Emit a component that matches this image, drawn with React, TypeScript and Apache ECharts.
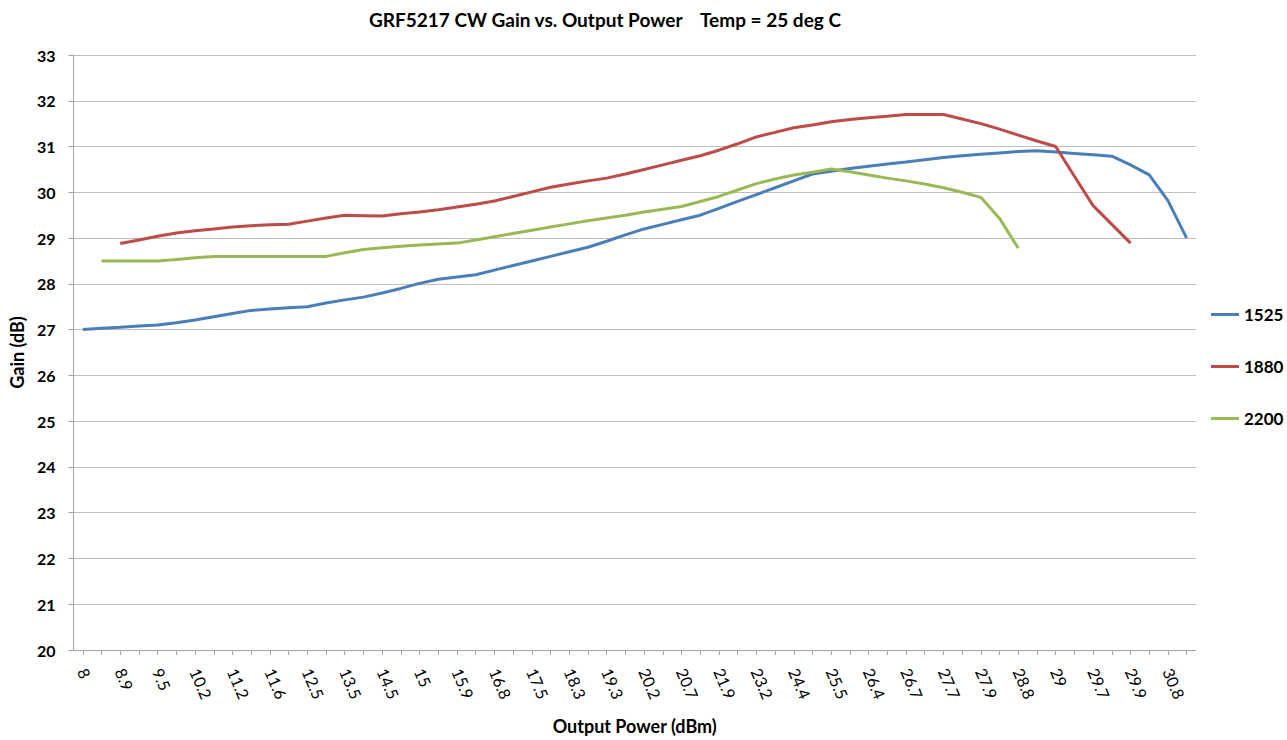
import React, { useEffect, useRef } from "react";
import * as echarts from "echarts";

const categories = [
  "8", "8.4", "8.9", "9.2", "9.5", "9.9", "10.2", "10.7", "11.2", "11.4",
  "11.6", "12.1", "12.5", "13", "13.5", "14", "14.5", "14.8", "15", "15.5",
  "15.9", "16.3", "16.8", "17.1", "17.5", "17.9", "18.3", "18.8", "19.3", "19.8",
  "20.2", "20.5", "20.7", "21.3", "21.9", "22.6", "23.2", "23.8", "24.4", "25",
  "25.5", "26", "26.4", "26.5", "26.7", "27.2", "27.7", "27.8", "27.9", "28.3",
  "28.8", "28.9", "29", "29.4", "29.7", "29.8", "29.9", "30.3", "30.8", "31.2",
];

const gain1525 = [
  27.0, 27.03, 27.05, 27.08, 27.1, 27.15, 27.21, 27.28, 27.35, 27.42,
  27.45, 27.48, 27.5, 27.58, 27.65, 27.71, 27.8, 27.9, 28.01, 28.1,
  28.15, 28.2, 28.3, 28.4, 28.5, 28.6, 28.7, 28.8, 28.93, 29.07,
  29.2, 29.3, 29.4, 29.5, 29.65, 29.8, 29.95, 30.1, 30.25, 30.4,
  30.46, 30.52, 30.57, 30.62, 30.66, 30.71, 30.76, 30.8, 30.83, 30.86,
  30.89, 30.91, 30.88, 30.85, 30.82, 30.79, 30.6, 30.38, 29.82, 29.0,
];

const gain1880 = [
  null, null, 28.88, 28.96, 29.04, 29.11, 29.16, 29.2, 29.24, 29.27,
  29.29, 29.3, 29.37, 29.44, 29.5, 29.49, 29.48, 29.53, 29.57, 29.62,
  29.68, 29.74, 29.81, 29.91, 30.01, 30.11, 30.18, 30.25, 30.31, 30.4,
  30.5, 30.6, 30.7, 30.8, 30.92, 31.06, 31.21, 31.31, 31.41, 31.47,
  31.54, 31.59, 31.63, 31.66, 31.7, 31.7, 31.7, 31.6, 31.5, 31.38,
  31.25, 31.12, 31.0, 30.35, 29.71, 29.3, 28.89, null, null, null,
];

const gain2200 = [
  null, 28.5, 28.5, 28.5, 28.5, 28.53, 28.57, 28.6, 28.6, 28.6,
  28.6, 28.6, 28.6, 28.6, 28.68, 28.75, 28.79, 28.82, 28.85, 28.87,
  28.89, 28.96, 29.03, 29.1, 29.17, 29.24, 29.31, 29.38, 29.44, 29.5,
  29.57, 29.63, 29.69, 29.8, 29.91, 30.05, 30.19, 30.29, 30.38, 30.44,
  30.51, 30.45, 30.38, 30.31, 30.25, 30.18, 30.1, 30.0, 29.89, 29.43,
  28.78, null, null, null, null, null, null, null, null, null,
];

const seriesNames = ["1525", "1880", "2200"];
const seriesColors = ["#4a7ebb", "#be4b48", "#98b954"];

const FONT = "Lato, 'Open Sans', sans-serif";

export default function App() {
  const ref = useRef<HTMLDivElement>(null);

  useEffect(() => {
    if (!ref.current) return;
    const chart = echarts.init(ref.current, null, { renderer: "svg" });
    const datasets = [gain1525, gain1880, gain2200];
    chart.setOption({
      animation: false,
      backgroundColor: "#ffffff",
      textStyle: { fontFamily: FONT },
      title: {
        text: "GRF5217 CW Gain vs. Output Power    Temp = 25 deg C",
        left: 600,
        top: 5,
        textAlign: "center",
        textStyle: { fontFamily: FONT, fontSize: 19, fontWeight: "bold", color: "#000" },
      },
      legend: {
        orient: "vertical",
        left: 1211,
        top: 306,
        padding: 0,
        itemWidth: 28,
        itemHeight: 3,
        itemGap: 35,
        icon: "rect",
        data: seriesNames,
        textStyle: { fontFamily: FONT, fontSize: 17, fontWeight: "bold", color: "#000" },
      },
      grid: { left: 73, right: 91, top: 55, bottom: 79, containLabel: false },
      xAxis: {
        type: "category",
        data: categories,
        boundaryGap: true,
        name: "Output Power (dBm)",
        nameLocation: "middle",
        nameGap: 67,
        nameTextStyle: { fontFamily: FONT, fontSize: 18, fontWeight: "bold", color: "#000" },
        axisLine: { lineStyle: { color: "#a6a6a6", width: 1 } },
        axisTick: { show: true, interval: 0, alignWithLabel: true, length: 5, lineStyle: { color: "#a6a6a6" } },
        axisLabel: {
          interval: 1,
          rotate: -67,
          fontFamily: FONT,
          fontSize: 16,
          color: "#000",
          margin: 19,
        },
        splitLine: { show: false },
      },
      yAxis: {
        type: "value",
        min: 20,
        max: 33,
        interval: 1,
        name: "Gain (dB)",
        nameLocation: "middle",
        nameGap: 46,
        nameRotate: 90,
        nameTextStyle: { fontFamily: FONT, fontSize: 18, fontWeight: "bold", color: "#000" },
        axisLine: { show: true, lineStyle: { color: "#a6a6a6", width: 1 } },
        axisTick: { show: true, length: 5, lineStyle: { color: "#a6a6a6" } },
        axisLabel: { fontFamily: FONT, fontSize: 16, fontWeight: "bold", color: "#000", margin: 18 },
        splitLine: { show: true, lineStyle: { color: "#bfbfbf", width: 1 } },
      },
      series: seriesNames.map((name, i) => ({
        name,
        type: "line",
        data: datasets[i],
        symbol: "none",
        connectNulls: false,
        lineStyle: { color: seriesColors[i], width: 3 },
        itemStyle: { color: seriesColors[i] },
      })),
    });
    return () => chart.dispose();
  }, []);

  return (
    <div
      ref={ref}
      style={{ position: "fixed", left: 0, top: 0, width: 1287, height: 740, background: "#fff" }}
    />
  );
}
